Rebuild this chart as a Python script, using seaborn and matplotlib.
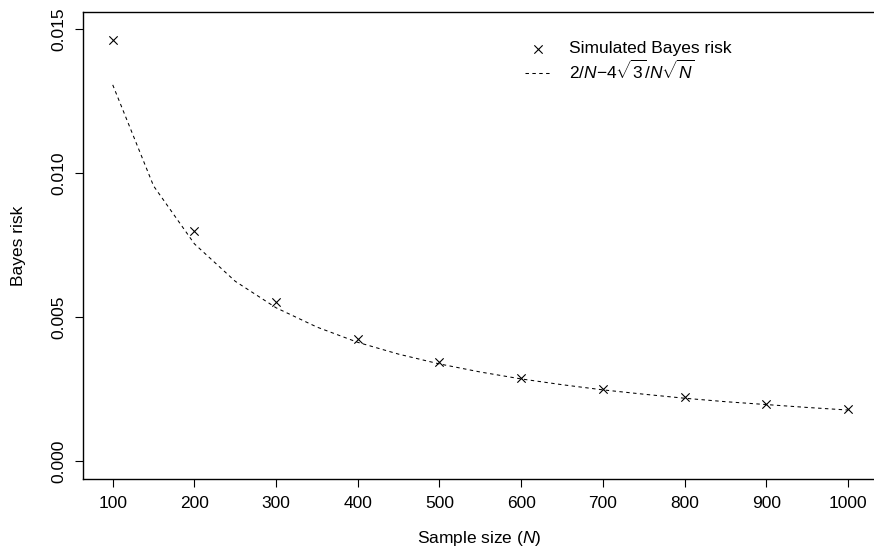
import numpy as np
import pandas as pd
import matplotlib
matplotlib.use("Agg")
import matplotlib.pyplot as plt
import seaborn as sns

# simulated Bayes risk
sample_sizes = [100, 200, 300, 400, 500, 600, 700, 800, 900, 1000]
sim_risk = [0.01462, 0.00799, 0.00553, 0.00424, 0.00345, 0.00290,
            0.00252, 0.00222, 0.00198, 0.00180]

# approximation curve 2/N - 4*sqrt(3)/(N*sqrt(N)), read off at steps of 50
curve_n = [100, 150, 200, 250, 300, 350, 400, 450, 500, 550,
           600, 650, 700, 750, 800, 850, 900, 950, 1000]
curve_risk = [0.01307, 0.00956, 0.00755, 0.00625, 0.00533, 0.00466,
              0.00413, 0.00372, 0.00338, 0.00310, 0.00286, 0.00266,
              0.00248, 0.00233, 0.00219, 0.00207, 0.00197, 0.00187,
              0.00178]

x_ticks = [100, 200, 300, 400, 500, 600, 700, 800, 900, 1000]
y_ticks = [0.000, 0.005, 0.010, 0.015]

sns.set_style("ticks")
plt.rcParams["font.family"] = ["Liberation Sans", "DejaVu Sans"]
plt.rcParams["mathtext.fontset"] = "custom"
plt.rcParams["mathtext.rm"] = "Liberation Sans"
plt.rcParams["mathtext.it"] = "Liberation Sans:italic"
plt.rcParams["text.color"] = "black"
plt.rcParams["axes.labelcolor"] = "black"
plt.rcParams["xtick.color"] = "black"
plt.rcParams["ytick.color"] = "black"

fs = 12.5
fig = plt.figure(figsize=(8.74, 5.52), dpi=100)
ax = fig.add_axes([83 / 874, 1 - 479.3 / 552, (878 - 83) / 874, (479.3 - 12) / 552])

sim_df = pd.DataFrame({"N": sample_sizes, "risk": sim_risk})
curve_df = pd.DataFrame({"N": curve_n, "risk": curve_risk})

sns.lineplot(data=curve_df, x="N", y="risk", ax=ax, color="black", lw=0.75,
             label=r"2/$N$$-$4$\sqrt{3}$/$N\sqrt{N}$")
ax.lines[-1].set_dashes((3.3, 3.3))
sns.scatterplot(data=sim_df, x="N", y="risk", ax=ax, marker="x", color="black",
                s=36, linewidth=0.8, label="Simulated Bayes risk")

ax.set_xlim(63.6, 1036.8)
ax.set_ylim(-0.000625, 0.0156)
ax.set_xticks(x_ticks)
ax.set_yticks(y_ticks)
ax.set_xticklabels([str(v) for v in x_ticks], fontsize=fs)
ax.set_yticklabels(["%.3f" % v for v in y_ticks], fontsize=fs,
                   rotation=90, va="center")
ax.tick_params(axis="both", direction="out", length=5.8, width=0.8, color="black")
ax.tick_params(axis="x", pad=6)
ax.tick_params(axis="y", pad=6)
for sp in ax.spines.values():
    sp.set_visible(True)
    sp.set_linewidth(1.0)
    sp.set_color("black")

ax.set_xlabel(r"Sample size ($N$)", fontsize=fs)
ax.set_ylabel("Bayes risk", fontsize=fs)
ax_w = 878 - 83
ax_h = 479.3 - 12
ax.xaxis.set_label_coords((479 - 83) / ax_w, -(538 - 479.3) / ax_h)
ax.yaxis.set_label_coords(-(83 - 19) / ax_w, 0.5)
ax.xaxis.label.set_va("center")
ax.yaxis.label.set_va("center")

handles, labels = ax.get_legend_handles_labels()
order = [1, 0]
ax.legend([handles[i] for i in order], [labels[i] for i in order],
          loc="upper left", bbox_to_anchor=(525 / 874, 1 - 41 / 552),
          bbox_transform=fig.transFigure, frameon=False, fontsize=fs,
          handlelength=1.55, handletextpad=1.0, labelspacing=0.15,
          borderpad=0, borderaxespad=0)

fig.savefig("out.png", dpi=100)
